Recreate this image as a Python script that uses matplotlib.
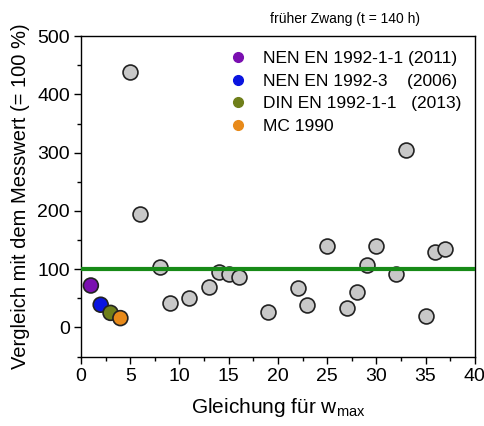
import numpy as np
import matplotlib.pyplot as plt
from matplotlib.ticker import MultipleLocator
from matplotlib.lines import Line2D

plt.rcParams['font.family'] = ['Liberation Sans', 'DejaVu Sans']

# Vergleich der Gleichungen fuer w_max mit dem Messwert
norm_nr = [1, 2, 3, 4]
norm_wert = [72, 39, 25, 16]
norm_namen = ['NEN EN 1992-1-1 (2011)', 'NEN EN 1992-3    (2006)',
              'DIN EN 1992-1-1   (2013)', 'MC 1990']
norm_farben = ['#7a0fb0', '#0a14e0', '#6f7f1a', '#e88a1a']

gl_nr = [5, 6, 8, 9, 11, 13, 14, 15, 16, 19, 22, 23, 25, 27, 28, 29,
         30, 32, 33, 35, 36, 37]
gl_wert = [438, 195, 104, 42, 50, 70, 95, 92, 87, 26, 67, 38, 139, 34,
           61, 108, 139, 92, 305, 20, 129, 135]

fig = plt.figure(figsize=(4.85, 4.26), dpi=100)
ax = fig.add_axes([0.167, 0.163, 0.812, 0.752])

ax.scatter(gl_nr, gl_wert, s=115, c='#c8c8c8', edgecolors='#222222',
           linewidths=1.2, zorder=2)
ax.scatter(norm_nr, norm_wert, s=115, c=norm_farben, edgecolors='#222222',
           linewidths=1.2, zorder=2)
ax.axhline(100, color='#178a17', lw=3, zorder=3)

ax.set_xlim(0, 40)
ax.set_ylim(-50, 500)
ax.xaxis.set_major_locator(MultipleLocator(5))
ax.xaxis.set_minor_locator(MultipleLocator(2.5))
ax.yaxis.set_major_locator(MultipleLocator(100))
ax.yaxis.set_minor_locator(MultipleLocator(50))
ax.tick_params(which='both', direction='out', labelsize=14, width=1)
ax.tick_params(which='major', length=5, pad=3)
ax.tick_params(which='minor', length=3)
for sp in ax.spines.values():
    sp.set_linewidth(1.0)

ax.set_xlabel('Gleichung für w$_{\\mathregular{max}}$', fontsize=15, labelpad=8)
ax.set_ylabel('Vergleich mit dem Messwert (= 100 %)', fontsize=14.5, labelpad=5)

handles = [Line2D([], [], ls='none', marker='o', ms=7, mfc=f, mec=f)
           for f in norm_farben]
ax.legend(handles, norm_namen, loc='upper left', bbox_to_anchor=(0.36, 0.975),
          frameon=False, fontsize=12.5, handletextpad=0.9, labelspacing=0.42,
          handlelength=1.0, borderaxespad=0)

fig.text(0.712, 0.945, 'früher Zwang (t = 140 h)', fontsize=10, ha='center')

fig.savefig('out.png', dpi=100)
